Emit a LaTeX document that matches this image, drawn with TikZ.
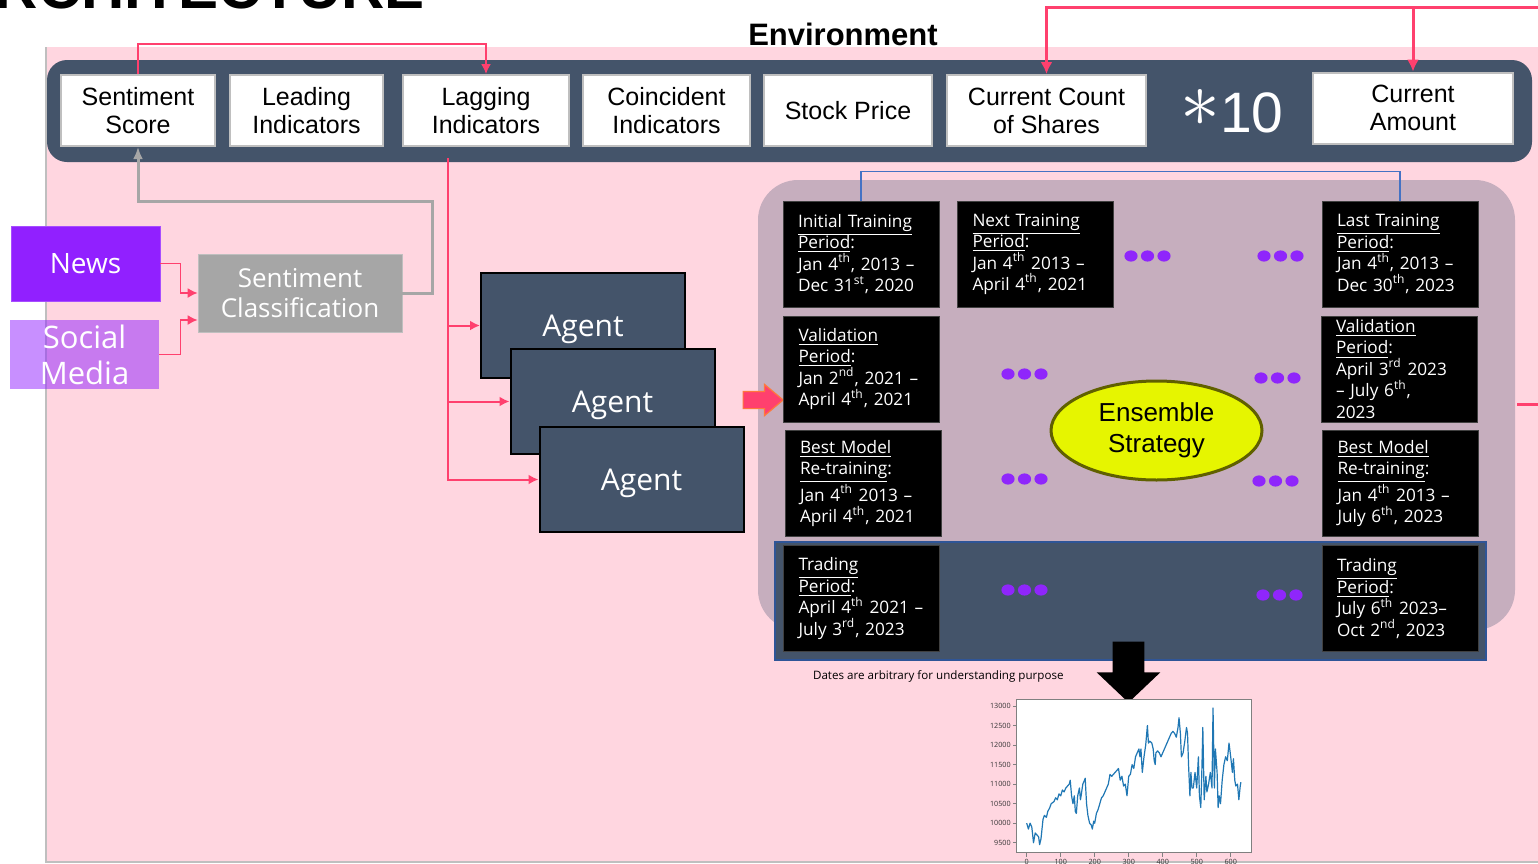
\documentclass[tikz,border=0pt]{standalone}
\usepackage{fontspec}
\usepackage{graphicx}
\setmainfont{Liberation Sans}
\newfontfamily\interfont{Open Sans}
\usetikzlibrary{arrows.meta,positioning,shapes.geometric,shapes.arrows}

\definecolor{pinkbg}{RGB}{255,214,224}
\definecolor{slate}{RGB}{68,84,106}
\definecolor{mauve}{RGB}{198,174,190}
\definecolor{newsviolet}{RGB}{145,32,255}
\definecolor{dotviolet}{RGB}{143,38,251}
\definecolor{hotpink}{RGB}{255,64,110}
\definecolor{ensyellow}{RGB}{230,245,0}
\definecolor{ensolive}{RGB}{96,96,0}
\definecolor{linegray}{RGB}{166,166,166}
\definecolor{boxgray}{RGB}{191,191,191}
\definecolor{bracketblue}{RGB}{68,114,196}
\definecolor{bandblue}{RGB}{47,85,151}
\definecolor{chartblue}{RGB}{31,119,180}
\definecolor{arroworange}{RGB}{255,120,60}

\newcommand{\hd}[1]{\underline{#1}}
\newcommand{\sups}[1]{\textsuperscript{#1}}

\begin{document}
\begin{tikzpicture}[x=0.5pt, y=-0.5pt,
    envbox/.style={draw=boxgray, line width=1pt, fill=white, minimum height=35.5pt, align=center, inner sep=1pt, font=\fontsize{12.5}{14}\selectfont},
    agentbox/.style={draw=black, line width=1pt, fill=slate, minimum width=102pt, minimum height=52.5pt, text=white, text depth=0pt, font=\interfont\fontsize{15}{18}\selectfont},
    periodbox/.style={draw=black!75, fill=black, text=white, text width=63pt, inner xsep=7.5pt, inner ysep=1pt, minimum height=53pt, align=left, font=\interfont\fontsize{8.6}{10.75}\selectfont},
    feed/.style={draw=hotpink, line width=0.75pt, -{Latex[length=5pt,width=5pt]}},
    srcbox/.style={minimum width=74.5pt, text=white, align=center, inner sep=0pt}]
  \useasboundingbox (0,0) rectangle (1538,863);
  \clip (0,0) rectangle (1538,863);

  % background and title
  \fill[pinkbg] (46,47) rectangle (1545,862);
  \draw[boxgray, line width=0.7pt] (46,47) -- (46,862) -- (1545,862);
  \node[anchor=base east, font=\bfseries\fontsize{30}{30}\selectfont] (title) at (432,8) {ARCHITECTURE};
  \node[font=\bfseries\fontsize{15.5}{18}\selectfont] (env) at (843,34) {Environment};

  % environment state row
  \fill[slate, rounded corners=10pt] (47,60) rectangle (1532,162);
  \node[envbox, minimum width=77pt] (sentScore) at (138,110.5) {Sentiment\\Score};
  \node[envbox, minimum width=76.5pt, right=6.5pt of sentScore] (leading) {Leading\\Indicators};
  \node[envbox, minimum width=83pt, right=9pt of leading] (lagging) {Lagging\\Indicators};
  \node[envbox, minimum width=83.5pt, right=6pt of lagging] (coincident) {Coincident\\Indicators};
  \node[envbox, minimum width=84pt, right=6pt of coincident] (stock) {Stock Price};
  \node[envbox, minimum width=99.5pt, right=6.5pt of stock] (count) {Current Count\\of Shares};
  \node[text=white, font=\fontsize{28.5}{30}\selectfont] (times) at (1232,111) {\raisebox{0.1em}{\scalebox{1.6}{$\ast$}}10};
  \node[envbox, minimum width=100pt] (amount) at (1413,108) {Current\\Amount};

  % sentiment sources
  \node[srcbox, fill=newsviolet, draw=newsviolet!80, minimum height=37.5pt, font=\interfont\fontsize{14}{16}\selectfont] (news) at (85.5,263.5) {News};
  \node[srcbox, fill=newsviolet, fill opacity=0.5, text opacity=1, minimum height=34.5pt, font=\interfont\fontsize{15.5}{18}\selectfont] (social) at (84.5,354.5) {Social\\Media};
  \node[fill=linegray, draw=boxgray, minimum width=102pt, minimum height=39pt, text=white, align=center, font=\interfont\fontsize{13}{15}\selectfont] (sentClass) at (300,293) {Sentiment\\Classification};

  % agents
  \node[agentbox] (agent1) at (583,325.5) {Agent};
  \node[agentbox] (agent2) at (612.5,401.5) {Agent};
  \node[agentbox] (agent3) at (641.5,479.5) {Agent};

  % walk-forward periods
  \fill[mauve, rounded corners=20pt] (758,180) rectangle (1515,630);
  \fill[slate] (775,542) rectangle (1486,660);
  \draw[bandblue, line width=0.6pt] (775,542) rectangle (1486,660);
  \node[single arrow, fill=hotpink, draw=arroworange, line width=0.6pt, minimum height=20pt, single arrow head extend=3.5pt, single arrow tip angle=80, inner xsep=0pt, inner ysep=4pt] (toPeriods) at (758,400) {};
  \node[periodbox] (initTrain) at (861,254) {\hd{Initial Training}\\\hd{Period}:\\Jan 4\sups{th}, 2013 –\\Dec 31\sups{st}, 2020};
  \node[periodbox] (nextTrain) at (1035.5,254) {\hd{Next Training}\\\hd{Period}:\\Jan 4\sups{th} 2013 –\\April 4\sups{th}, 2021};
  \node[periodbox] (lastTrain) at (1400,254) {\hd{Last Training}\\\hd{Period}:\\Jan 4\sups{th}, 2013 –\\Dec 30\sups{th}, 2023};
  \node[periodbox] (valL) at (861.5,369) {\hd{Validation}\\\hd{Period}:\\Jan 2\sups{nd}, 2021 –\\April 4\sups{th}, 2021};
  \node[periodbox] (valR) at (1399,369) {\hd{Validation}\\\hd{Period}:\\April 3\sups{rd} 2023\\– July 6\sups{th},\\2023};
  \node[periodbox] (bestL) at (863,483.5) {\hd{Best Model}\\\hd{Re-training}:\\Jan 4\sups{th} 2013 –\\April 4\sups{th}, 2021};
  \node[periodbox] (bestR) at (1400.5,483.5) {\hd{Best Model}\\\hd{Re-training}:\\Jan 4\sups{th} 2013 –\\July 6\sups{th}, 2023};
  \node[periodbox] (tradeL) at (861.5,598.5) {\hd{Trading}\\\hd{Period}:\\April 4\sups{th} 2021 –\\July 3\sups{rd}, 2023};
  \node[periodbox] (tradeR) at (1400,598.5) {\hd{Trading}\\\hd{Period}:\\July 6\sups{th} 2023–\\Oct 2\sups{nd}, 2023};
  \foreach \x/\y in {1131/256, 1264/256, 1008/374, 1261/378, 1008/479, 1259/481, 1008/590, 1263/595}
    \foreach \d in {0,16.5,33}
      \fill[dotviolet] (\x+\d,\y) ellipse [x radius=3.3pt, y radius=2.8pt];
  \node[ellipse, fill=ensyellow, draw=ensolive, line width=1.5pt, minimum width=105.5pt, minimum height=49.5pt, inner sep=0pt, align=center, font=\fontsize{13}{15.5}\selectfont] (ensemble) at (1156.5,430.5) {Ensemble\\Strategy};

  \node[single arrow, fill=black, rotate=-90, minimum height=30.5pt, single arrow head extend=8pt, single arrow tip angle=93, inner xsep=0pt, inner ysep=7.75pt] (toChart) at (1128.5,664.5) {};
  \node[anchor=west, font=\interfont\fontsize{5.8}{7}\selectfont] (note) at (806,676) {Dates are arbitrary for understanding purpose};

  % connectors
  \coordinate (offR) at (1545,7);
  \coordinate (offMid) at (1545,404);
  \coordinate (midR) at (1517,404);
  \coordinate (lagTap) at (448,158);
  \draw[feed] (sentScore.north) |- ([yshift=15pt]lagging.north) -- (lagging.north);
  \draw[feed, line width=1.5pt, -{Latex[length=6pt,width=6pt]}] (offR) -| (count.north);
  \draw[feed, line width=1.5pt, -{Latex[length=6pt,width=6pt]}] (amount.north |- offR) -- (amount.north);
  \draw[hotpink, line width=1.5pt] (midR) -- (offMid);
  \draw[linegray, line width=1.5pt, -{Latex[length=6pt,width=5pt]}] (sentClass.east) -| (432,201) -| (sentScore.south);
  \draw[feed] (news.east) -- ++(10pt,0) |- (sentClass.west);
  \draw[feed] (social.east) -- ++(10.5pt,0) |- ([yshift=-13.5pt]sentClass.west);
  \draw[feed, line width=1pt] (lagTap) |- (agent1.west);
  \draw[feed, line width=1pt] (lagTap) |- (agent2.west);
  \draw[feed, line width=1pt] (lagTap) |- (agent3.west);
  \draw[bracketblue, line width=0.6pt] (initTrain.north) |- ([yshift=14.5pt]lastTrain.north) -- (lastTrain.north);

  % price chart
  \begin{scope}[shift={(1026.7,1213.8)}, x=0.17pt, y=0.01953pt, font=\interfont\fontsize{3.6}{4}\selectfont]
    \draw[fill=white, draw=gray, line width=0.5pt] (-31.4,9237) rectangle (659.7,13154);
    \foreach \v in {9500,10000,...,13000} {
      \draw[gray, line width=0.4pt] (-31.4,\v) -- (-40,\v);
      \node[anchor=east, inner sep=1pt, text=black!80] (ytick\v) at (-40,\v) {\v};
    }
    \foreach \i in {0,100,...,600} {
      \draw[gray, line width=0.4pt] (\i,9237) -- (\i,9140);
      \node[anchor=north, inner sep=1pt, text=black!80] (xtick\i) at (\i,9140) {\i};
    }
    \draw[chartblue, line width=0.6pt, line join=round] plot coordinates {
      (0,10000) (5,9850) (10,10000) (15,9900) (20,9500) (25,9750) (30,9700) (35,9650) (38,9450) (42,9600)
      (48,10100) (52,10200) (58,10150) (62,10300) (68,10400) (72,10500) (80,10550) (85,10650) (90,10600) (95,10750)
      (100,10700) (105,10850) (110,10800) (115,10900) (120,10950) (125,11000) (128,11100) (132,10700) (136,10500) (140,10700)
      (143,10300) (146,10250) (150,10700) (155,10900) (158,10600) (160,10700) (165,11000) (170,11100) (172,11150) (176,10500)
      (180,10200) (185,10000) (190,9950) (193,9850) (197,10050) (200,10000) (205,10250) (210,10350) (215,10500) (220,10650)
      (225,10700) (230,10800) (235,10900) (240,11000) (245,11250) (250,11200) (255,11250) (260,11300) (265,11350) (270,11400)
      (275,11100) (280,11200) (285,10950) (290,11000) (295,10700) (300,11200) (305,11250) (310,11500) (315,11400) (320,11700)
      (325,11800) (330,11900) (333,11700) (336,11900) (340,11300) (345,11700) (350,12000) (355,12500) (358,12050) (362,12100)
      (368,12050) (372,11900) (375,11600) (378,11500) (380,11800) (385,11850) (390,11800) (395,11700) (400,11800) (405,11900)
      (410,12000) (415,12100) (420,12200) (425,12300) (430,12350) (435,12300) (440,12200) (445,12450) (448,12700) (452,12300)
      (455,11700) (460,11800) (465,12100) (470,12450) (473,12300) (476,11500) (480,10700) (483,11300) (486,10900) (490,10900)
      (495,11300) (500,10900) (505,11700) (508,10700) (512,10400) (515,11300) (518,12450) (522,10600) (527,11200) (530,10800)
      (535,11000) (540,11300) (545,10900) (548,12950) (552,10900) (555,11900) (560,11300) (563,10400) (566,10700) (570,10500)
      (575,11100) (580,11500) (585,11700) (590,11600) (595,12050) (600,11700) (605,11300) (608,11650) (612,11100) (615,10950)
      (620,11000) (624,10600) (628,10950) (630,11050)};
  \end{scope}
\end{tikzpicture}
\end{document}
